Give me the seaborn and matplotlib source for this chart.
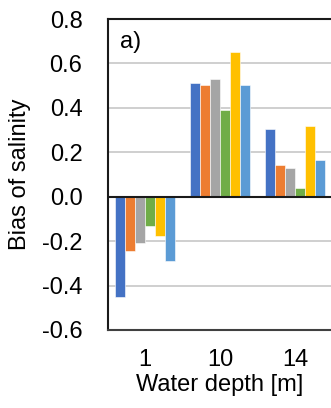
import matplotlib
matplotlib.use("Agg")
import matplotlib.pyplot as plt
import seaborn as sns
import pandas as pd

depths = ["1", "10", "14"]
series = ["S1", "S2", "S3", "S4", "S5", "S6"]
colors = ["#4472C4", "#ED7D31", "#A5A5A5", "#70AD47", "#FFC000", "#5B9BD5"]
bias_1 = [-0.45, -0.246, -0.21, -0.131, -0.179, -0.288]
bias_10 = [0.51, 0.501, 0.531, 0.39, 0.651, 0.504]
bias_14 = [0.303, 0.145, 0.13, 0.039, 0.317, 0.167]
yticks = [-0.6, -0.4, -0.2, 0.0, 0.2, 0.4, 0.6, 0.8]

rows = []
for d, vals in zip(depths, [bias_1, bias_10, bias_14]):
    for s, v in zip(series, vals):
        rows.append({"depth": d, "series": s, "bias": v})
df = pd.DataFrame(rows)

sns.set_theme(style="white", rc={"text.color": "black", "axes.labelcolor": "black"})
plt.rcParams["font.family"] = ["Liberation Sans", "DejaVu Sans"]

W, H = 331, 408
fig = plt.figure(figsize=(W / 100, H / 100), dpi=100)
ax = fig.add_axes([107.5 / W, (H - 330) / H, 225 / W, 311 / H])

sns.barplot(data=df, x="depth", y="bias", hue="series", palette=colors,
            order=depths, hue_order=series, width=0.8, ax=ax, legend=False,
            saturation=1, edgecolor="white", linewidth=0.4, zorder=3)

ax.set_xlim(-0.5, 2.5)
ax.set_ylim(-0.6, 0.8)
ax.set_yticks(yticks)
ax.set_yticklabels([f"{t:.1f}" for t in yticks])
for t in yticks[1:-1]:
    if t != 0.0:
        ax.axhline(t, color="#CFCFCF", linewidth=1.4, zorder=1)
ax.axhline(0, color="#1a1a1a", linewidth=1.5, zorder=4)
ax.tick_params(axis="both", length=0, labelsize=17, labelcolor="black")
ax.tick_params(axis="y", pad=18)
ax.tick_params(axis="x", pad=14)
for side in ["left", "top", "bottom", "right"]:
    ax.spines[side].set_color("#1a1a1a")
    ax.spines[side].set_linewidth(1.5)
ax.spines["bottom"].set_color("#404040")

ax.set_xlabel("Water depth [m]", fontsize=17, labelpad=2, color="black")
ax.set_ylabel("Bias of salinity", fontsize=17, labelpad=8, color="black")
ax.text(0.055, 0.925, "a)", transform=ax.transAxes, fontsize=17,
        ha="left", va="center", color="black")

fig.savefig("out.png", dpi=100)
